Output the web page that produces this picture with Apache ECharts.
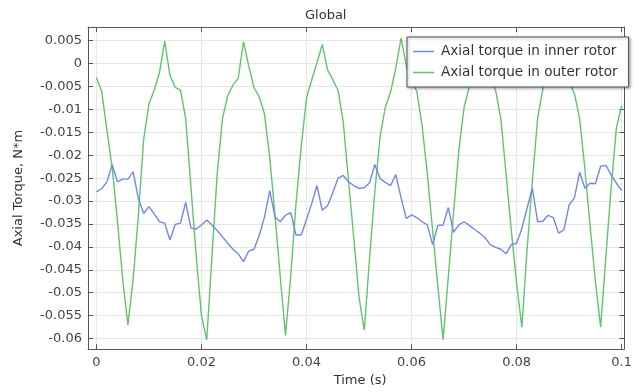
<!DOCTYPE html>
<html>
<head>
<meta charset="utf-8">
<script src="https://cdn.jsdelivr.net/npm/echarts@6/dist/echarts.min.js"></script>
<style>
  html, body { margin: 0; padding: 0; background: #fff; }
  #chart { width: 635px; height: 392px; }
</style>
</head>
<body>
<div id="chart"></div>
<script>
// time samples (s)
var times = [
  0, 0.001, 0.002, 0.003, 0.004, 0.005, 0.006, 0.007, 0.008, 0.009,
  0.010, 0.011, 0.012, 0.013, 0.014, 0.015, 0.016, 0.017, 0.018, 0.019,
  0.020, 0.021, 0.022, 0.023, 0.024, 0.025, 0.026, 0.027, 0.028, 0.029,
  0.030, 0.031, 0.032, 0.033, 0.034, 0.035, 0.036, 0.037, 0.038, 0.039,
  0.040, 0.041, 0.042, 0.043, 0.044, 0.045, 0.046, 0.047, 0.048, 0.049,
  0.050, 0.051, 0.052, 0.053, 0.054, 0.055, 0.056, 0.057, 0.058, 0.059,
  0.060, 0.061, 0.062, 0.063, 0.064, 0.065, 0.066, 0.067, 0.068, 0.069,
  0.070, 0.071, 0.072, 0.073, 0.074, 0.075, 0.076, 0.077, 0.078, 0.079,
  0.080, 0.081, 0.082, 0.083, 0.084, 0.085, 0.086, 0.087, 0.088, 0.089,
  0.090, 0.091, 0.092, 0.093, 0.094, 0.095, 0.096, 0.097, 0.098, 0.099,
  0.100
];

// Axial torque in inner rotor (N*m)
var innerTorque = [
  -0.0280, -0.0273, -0.0258, -0.0220, -0.0258, -0.0252, -0.0252, -0.0236, -0.0295, -0.0327,
  -0.0312, -0.0328, -0.0345, -0.0348, -0.0385, -0.0351, -0.0348, -0.0303, -0.0359, -0.0361,
  -0.0352, -0.0341, -0.0352, -0.0364, -0.0378, -0.0392, -0.0405, -0.0415, -0.0432, -0.0409,
  -0.0405, -0.0375, -0.0335, -0.0277, -0.0335, -0.0345, -0.0331, -0.0325, -0.0374, -0.0374,
  -0.0340, -0.0305, -0.0266, -0.0320, -0.0310, -0.0282, -0.0250, -0.0244, -0.0258, -0.0266,
  -0.0272, -0.0271, -0.0260, -0.0220, -0.0251, -0.0259, -0.0266, -0.0242, -0.0293, -0.0338,
  -0.0330, -0.0336, -0.0345, -0.0352, -0.0395, -0.0353, -0.0352, -0.0314, -0.0368, -0.0352,
  -0.0345, -0.0353, -0.0362, -0.0370, -0.0380, -0.0395, -0.0401, -0.0405, -0.0415, -0.0395,
  -0.0392, -0.0360, -0.0315, -0.0272, -0.0345, -0.0344, -0.0331, -0.0336, -0.0370, -0.0363,
  -0.0308, -0.0293, -0.0237, -0.0272, -0.0261, -0.0262, -0.0224, -0.0222, -0.0243, -0.0261,
  -0.0277
];

// Axial torque in outer rotor (N*m)
var outerTorque = [
  -0.0030, -0.0060, -0.0145, -0.0227, -0.0343, -0.0470, -0.0570, -0.0470, -0.0330, -0.0165,
  -0.0088, -0.0058, -0.0020, 0.0049, -0.0025, -0.0052, -0.0058, -0.0120, -0.0270, -0.0420,
  -0.0550, -0.0603, -0.0420, -0.0240, -0.0120, -0.0070, -0.0047, -0.0032, 0.0048, -0.0005,
  -0.0052, -0.0072, -0.0110, -0.0205, -0.0330, -0.0465, -0.0593, -0.0463, -0.0305, -0.0180,
  -0.0075, -0.0035, 0.0002, 0.0042, -0.0013, -0.0035, -0.0058, -0.0128, -0.0255, -0.0380,
  -0.0510, -0.0582, -0.0425, -0.0280, -0.0160, -0.0095, -0.0062, -0.0010, 0.0056, -0.0005,
  -0.0040, -0.0060, -0.0135, -0.0240, -0.0363, -0.0485, -0.0603, -0.0465, -0.0325, -0.0190,
  -0.0095, -0.0050, -0.0015, 0.0050, -0.0010, -0.0040, -0.0058, -0.0120, -0.0242, -0.0365,
  -0.0480, -0.0575, -0.0405, -0.0255, -0.0120, -0.0055, -0.0030, -0.0005, 0.0050, -0.0005,
  -0.0040, -0.0065, -0.0120, -0.0230, -0.0355, -0.0475, -0.0575, -0.0420, -0.0270, -0.0140,
  -0.0092
];

var seriesNames = ['Axial torque in inner rotor', 'Axial torque in outer rotor'];
var seriesColors = ['#7388e4', '#62c46e'];

var xRange = [-0.0016, 0.1005];
var yRange = [-0.0623, 0.0080];

function pairs(vals) {
  return vals.map(function (v, i) { return [times[i], v]; });
}

var font = 'DejaVu Sans';
var axisColor = '#555';

var chartDom = document.getElementById('chart');
var myChart = echarts.init(chartDom);
var option;

option = {
  animation: false,
  backgroundColor: '#fff',
  textStyle: { fontFamily: font },
  title: {
    text: 'Global',
    left: 305,
    top: 9,
    padding: 0,
    textStyle: { fontFamily: font, fontSize: 13, fontWeight: 'normal', color: '#333' }
  },
  legend: {
    data: seriesNames,
    orient: 'vertical',
    left: 407,
    top: 37,
    padding: [7, 11, 7, 6],
    icon: 'rect',
    itemWidth: 21,
    itemHeight: 1.5,
    itemGap: 6,
    backgroundColor: '#fff',
    borderColor: '#555',
    borderWidth: 1,
    borderRadius: 0,
    shadowColor: 'rgba(0,0,0,0.35)',
    shadowBlur: 3,
    shadowOffsetX: 1,
    shadowOffsetY: 1,
    textStyle: { fontFamily: font, fontSize: 13.6, lineHeight: 15, color: '#333', padding: [0, 0, 0, 2] }
  },
  grid: {
    left: 88,
    right: 5,
    top: 27,
    bottom: 39,
    show: false
  },
  xAxis: [
    {
      type: 'value',
      min: xRange[0],
      max: xRange[1],
      minInterval: 0.02,
      maxInterval: 0.02,
      name: 'Time (s)',
      nameLocation: 'middle',
      nameGap: 24,
      nameTextStyle: { fontFamily: font, fontSize: 13, color: '#333', padding: [0, 0, 0, 8] },
      axisLine: { show: true, onZero: false, lineStyle: { color: axisColor, width: 1 } },
      axisTick: { show: true, inside: true, length: 5, lineStyle: { color: axisColor } },
      axisLabel: {
        showMinLabel: false,
        showMaxLabel: false,
        margin: 7,
        fontFamily: font,
        fontSize: 13,
        color: '#444'
      },
      splitLine: { show: true, lineStyle: { color: '#e6e6e6', width: 1 } }
    },
    {
      type: 'value',
      position: 'top',
      min: xRange[0],
      max: xRange[1],
      minInterval: 0.02,
      maxInterval: 0.02,
      axisLine: { show: true, onZero: false, lineStyle: { color: axisColor, width: 1 } },
      axisTick: { show: true, inside: true, length: 5, lineStyle: { color: axisColor } },
      axisLabel: { show: false },
      splitLine: { show: false }
    }
  ],
  yAxis: [
    {
      type: 'value',
      min: yRange[0],
      max: yRange[1],
      minInterval: 0.005,
      maxInterval: 0.005,
      name: 'Axial Torque, N*m',
      nameLocation: 'middle',
      nameGap: 63,
      nameTextStyle: { fontFamily: font, fontSize: 13, color: '#333' },
      axisLine: { show: true, onZero: false, lineStyle: { color: axisColor, width: 1 } },
      axisTick: { show: true, inside: true, length: 5, lineStyle: { color: axisColor } },
      axisLabel: {
        showMinLabel: false,
        showMaxLabel: false,
        margin: 6,
        fontFamily: font,
        fontSize: 13,
        color: '#444'
      },
      splitLine: { show: true, lineStyle: { color: '#e6e6e6', width: 1 } }
    },
    {
      type: 'value',
      position: 'right',
      min: yRange[0],
      max: yRange[1],
      minInterval: 0.005,
      maxInterval: 0.005,
      axisLine: { show: true, onZero: false, lineStyle: { color: axisColor, width: 1 } },
      axisTick: { show: true, inside: true, length: 5, lineStyle: { color: axisColor } },
      axisLabel: { show: false },
      splitLine: { show: false }
    }
  ],
  series: [
    {
      name: seriesNames[0],
      type: 'line',
      data: pairs(innerTorque),
      symbol: 'none',
      color: seriesColors[0],
      lineStyle: { color: seriesColors[0], width: 1.4 },
      z: 3
    },
    {
      name: seriesNames[1],
      type: 'line',
      data: pairs(outerTorque),
      symbol: 'none',
      color: seriesColors[1],
      lineStyle: { color: seriesColors[1], width: 1.4 },
      z: 2
    }
  ]
};

option && myChart.setOption(option);
</script>
</body>
</html>
